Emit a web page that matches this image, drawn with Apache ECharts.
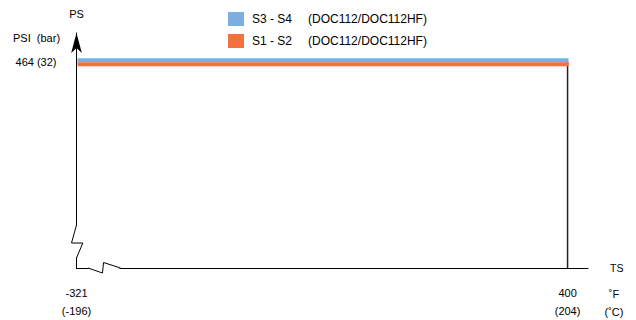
<!DOCTYPE html>
<html>
<head>
<meta charset="utf-8">
<script src="https://cdn.jsdelivr.net/npm/echarts@6/dist/echarts.min.js"></script>
<style>
html,body{margin:0;padding:0;background:#fff;}
#chart{width:636px;height:320px;}
</style>
</head>
<body>
<div id="chart"></div>
<script>
// ---- data ----
const seriesNames = ['S3 - S4', 'S1 - S2'];
const modelNote = '(DOC112/DOC112HF)';
const seriesColors = ['#7cafdd', '#f4703f'];
const tempRangeF = [-321, 400];      // min / max temperature (°F)
const tempRangeC = [-196, 204];      // same in °C
const pressurePsi = 464;             // max pressure (PSI)
const pressureBar = 32;              // same in bar
const xTickF = [-321, 400];
const xTickC = [-196, 204];
const yTickPsi = [464];
const yTickBar = [32];

const FONT = '"Liberation Sans", Arial, sans-serif';
const chart = echarts.init(document.getElementById('chart'), null, {renderer: 'svg'});

function bandSeries(idx, offset) {
  return {
    type: 'custom',
    name: seriesNames[idx],
    itemStyle: {color: seriesColors[idx]},
    encode: {x: [0, 1], y: 2},
    data: [[tempRangeF[0], tempRangeF[1], pressurePsi]],
    z: 3,
    renderItem: function (params, api) {
      const p0 = api.coord([api.value(0), api.value(2)]);
      const p1 = api.coord([api.value(1), api.value(2)]);
      return {
        type: 'rect',
        shape: {x: p0[0] + 1, y: p0[1] + offset, width: p1[0] - p0[0], height: 4},
        style: {fill: api.visual('color')}
      };
    }
  };
}

chart.setOption({
  animation: false,
  backgroundColor: '#fff',
  textStyle: {fontFamily: FONT},
  legend: {
    orient: 'vertical',
    left: 223, top: 7,
    itemWidth: 16, itemHeight: 14, itemGap: 8,
    icon: 'rect',
    data: seriesNames,
    selectedMode: false,
    formatter: function (name) { return '{a|' + name + '}{b|' + modelNote + '}'; },
    textStyle: {
      color: '#000', fontSize: 12, fontFamily: FONT, padding: [0, 0, 0, 3],
      rich: {
        a: {width: 56, fontSize: 12, color: '#000', fontFamily: FONT},
        b: {fontSize: 12, color: '#000', fontFamily: FONT}
      }
    }
  },
  grid: {left: 76.5, right: 48, top: 33, bottom: 52, containLabel: false},
  xAxis: {
    type: 'value',
    min: tempRangeF[0], max: 430,
    name: 'TS', nameLocation: 'end', nameGap: 22,
    nameTextStyle: {color: '#000', fontSize: 10.5, fontFamily: FONT, verticalAlign: 'middle', padding: [4, 0, 0, 0]},
    axisLine: {show: true, onZero: false, lineStyle: {color: '#000', width: 1}},
    axisTick: {show: false},
    splitLine: {show: false},
    axisLabel: {
      customValues: xTickF,
      margin: 16,
      color: '#000', fontSize: 11, fontFamily: FONT, lineHeight: 18,
      formatter: function (v) {
        const i = xTickF.indexOf(v);
        return v + '\n(' + xTickC[i] + ')';
      }
    }
  },
  yAxis: {
    type: 'value',
    min: 0, max: 530,
    name: 'PS', nameLocation: 'end', nameGap: 14,
    nameTextStyle: {color: '#000', fontSize: 11, fontFamily: FONT, align: 'center'},
    axisLine: {show: true, onZero: false, symbol: ['none', 'arrow'], symbolSize: [8, 20],
      lineStyle: {color: '#000', width: 1}},
    axisTick: {show: false},
    splitLine: {show: false},
    axisLabel: {
      customValues: yTickPsi,
      margin: 20,
      color: '#000', fontSize: 11, fontFamily: FONT,
      formatter: function (v) {
        const i = yTickPsi.indexOf(v);
        return v + ' (' + yTickBar[i] + ')';
      }
    }
  },
  series: [
    bandSeries(0, -4),
    bandSeries(1, 0),
    {
      type: 'line', name: 'limit', silent: true, symbol: 'none', z: 2,
      lineStyle: {color: '#222', width: 1.5},
      data: [[tempRangeF[1], 0], [tempRangeF[1], pressurePsi]]
    }
  ]
});

// axis-break decorations + unit labels, positioned relative to the axis origin
const o = chart.convertToPixel({gridIndex: 0}, [tempRangeF[0], 0]);
const ox = o[0], oy = o[1];
const line = {stroke: '#000', lineWidth: 1, fill: null};
chart.setOption({
  graphic: [
    {type: 'rect', z: 100, shape: {x: ox - 3, y: oy - 42, width: 6, height: 31}, style: {fill: '#fff'}},
    {type: 'rect', z: 100, shape: {x: ox + 12, y: oy - 2.5, width: 31, height: 5}, style: {fill: '#fff'}},
    {type: 'polyline', z: 101, shape: {points: [[ox, oy - 43], [ox - 5, oy - 25], [ox + 6.3, oy - 25], [ox, oy - 10]]}, style: line},
    {type: 'polyline', z: 101, shape: {points: [[ox + 11.5, oy], [ox + 26, oy + 5], [ox + 27, oy - 5.5], [ox + 44, oy]]}, style: line},
    {type: 'text', left: 13, top: 32, z: 100,
      style: {text: 'PSI  (bar)', fill: '#000', font: '11px ' + FONT}},
    {type: 'text', x: 614, y: 285, z: 100,
      style: {text: '˚F\n(˚C)', fill: '#000', font: '11px ' + FONT, align: 'center', verticalAlign: 'top', lineHeight: 18}}
  ]
});
</script>
</body>
</html>
